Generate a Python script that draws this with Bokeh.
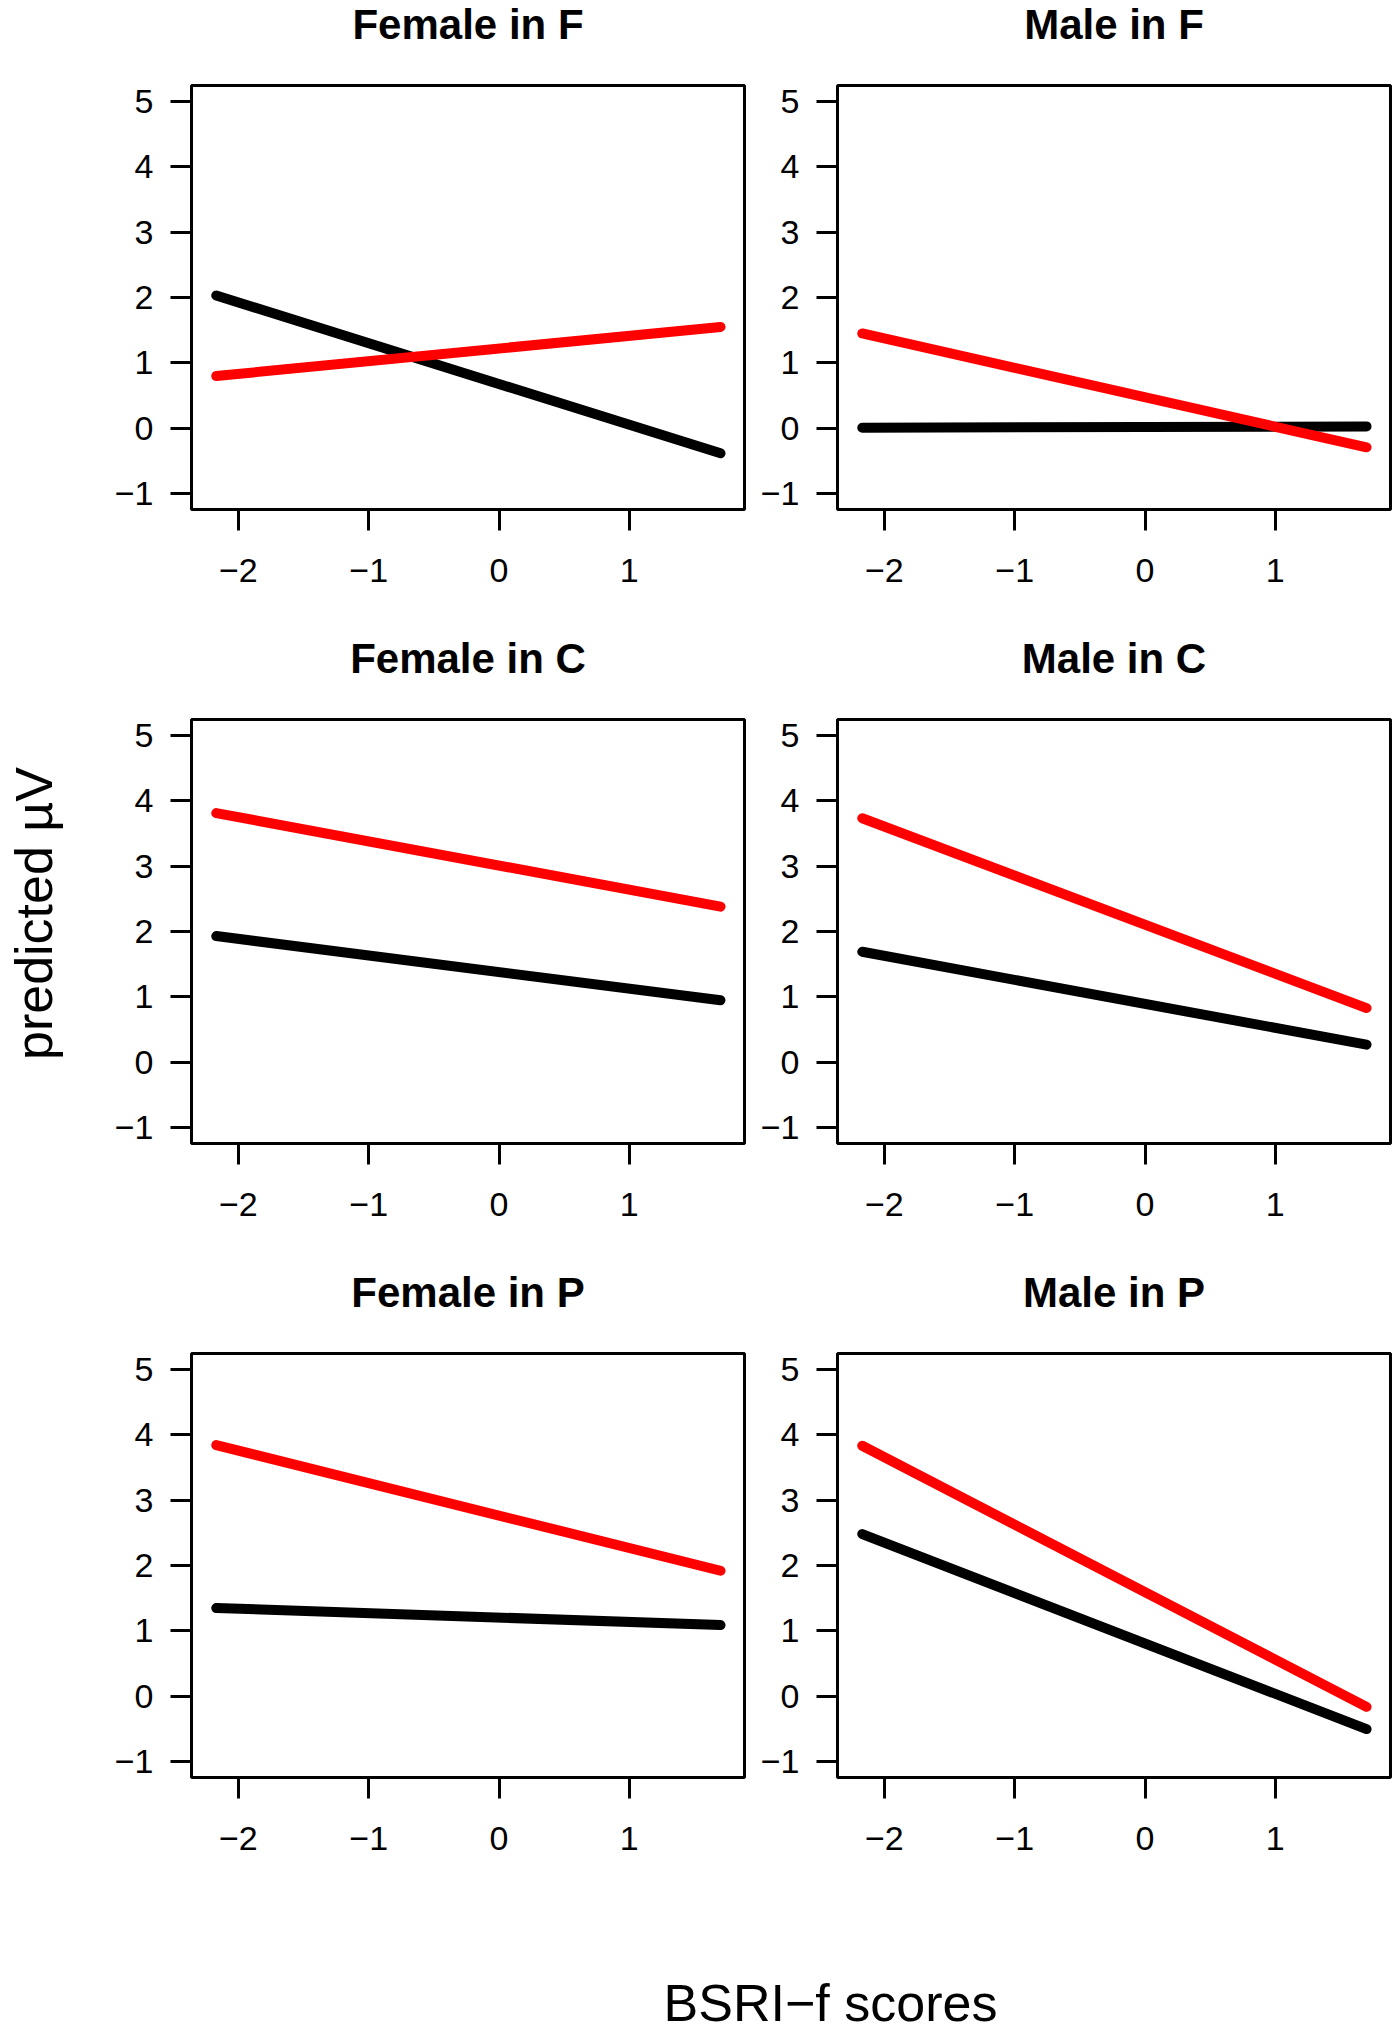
from bokeh.plotting import figure
from bokeh.models import Range1d, FixedTicker, Label
from bokeh.layouts import row, column
from bokeh.embed import file_html
from bokeh.resources import INLINE
import math

# ---- data ----
x_ends = [-2.17, 1.70]
panel_titles = ["Female in F", "Male in F", "Female in C", "Male in C", "Female in P", "Male in P"]
female_F_black = [2.03, -0.38]
female_F_red = [0.80, 1.55]
male_F_black = [0.01, 0.03]
male_F_red = [1.45, -0.29]
female_C_black = [1.93, 0.95]
female_C_red = [3.81, 2.38]
male_C_black = [1.69, 0.27]
male_C_red = [3.73, 0.83]
female_P_black = [1.35, 1.09]
female_P_red = [3.84, 1.92]
male_P_black = [2.48, -0.50]
male_P_red = [3.83, -0.16]
x_ticks = [-2, -1, 0, 1]
y_ticks = [-1, 0, 1, 2, 3, 4, 5]
y_label = "predicted µV"
x_label = "BSRI\u2212f scores"

blacks = [female_F_black, male_F_black, female_C_black, male_C_black, female_P_black, male_P_black]
reds = [female_F_red, male_F_red, female_C_red, male_C_red, female_P_red, male_P_red]

FONT = "Liberation Sans"
FRAME_W, FRAME_H = 553, 424
TITLE_H = 75
PANEL_TOP, PANEL_BOTTOM = 10, 125

def minus(v):
    return ("\u2212" + str(abs(v))) if v < 0 else str(v)

def border_lr(i):
    return (123, 8) if i % 2 == 0 else (85, 10)

def blank(width, height):
    f = figure(width=width, height=height, x_range=Range1d(0, width), y_range=Range1d(0, height),
               min_border=0, output_backend="svg", toolbar_location=None, title=None,
               x_axis_location=None, y_axis_location=None)
    f.grid.visible = False
    f.outline_line_color = None
    f.background_fill_color = "white"
    f.border_fill_color = "white"
    return f

def make_title(i):
    bl, br = border_lr(i)
    w = bl + FRAME_W + br
    f = blank(w, TITLE_H)
    f.add_layout(Label(x=bl + FRAME_W / 2, y=51, text=panel_titles[i],
                       text_align="center", text_baseline="alphabetic",
                       text_font=FONT, text_font_size="42px", text_font_style="bold",
                       text_color="black"))
    return f

def make_panel(i):
    bl, br = border_lr(i)
    p = figure(
        x_range=Range1d(-2.36, 1.884), y_range=Range1d(-1.24, 5.24),
        frame_width=FRAME_W, frame_height=FRAME_H,
        min_border_left=bl, min_border_right=br,
        min_border_top=PANEL_TOP, min_border_bottom=PANEL_BOTTOM,
        output_backend="svg", toolbar_location=None, title=None,
        background_fill_color="white", border_fill_color="white",
    )
    p.grid.visible = False
    p.outline_line_color = "black"
    p.outline_line_width = 3
    for ax, ticks in ((p.xaxis[0], x_ticks), (p.yaxis[0], y_ticks)):
        ax.ticker = FixedTicker(ticks=ticks)
        ax.minor_tick_line_color = None
        ax.axis_line_color = None
        ax.major_tick_line_color = "black"
        ax.major_tick_line_width = 3
        ax.major_tick_out = 21
        ax.major_tick_in = 0
        ax.major_label_text_font = FONT
        ax.major_label_text_font_size = "34px"
        ax.major_label_text_color = "black"
        ax.major_label_overrides = {t: minus(t) for t in ticks}
    p.xaxis[0].major_label_standoff = 28
    p.yaxis[0].major_label_standoff = 17
    p.line(x_ends, blacks[i], line_color="black", line_width=10, line_cap="round")
    p.line(x_ends, reds[i], line_color="#FF0000", line_width=10, line_cap="round")
    return p

rows = []
for r in range(3):
    i, j = 2 * r, 2 * r + 1
    rows.append(row(make_title(i), make_title(j)))
    rows.append(row(make_panel(i), make_panel(j)))

GRID_H = 3 * (TITLE_H + PANEL_TOP + FRAME_H + PANEL_BOTTOM)

# y label strip
yl = blank(68, GRID_H)
yl.add_layout(Label(x=33, y=GRID_H - 913, text=y_label, angle=math.pi / 2,
                    text_align="center", text_baseline="middle",
                    text_font=FONT, text_font_size="52px", text_color="black"))

# x label strip
XL_H = 2033 - GRID_H
xl = blank(1400, XL_H)
xl.add_layout(Label(x=830, y=31, text=x_label,
                    text_align="center", text_baseline="middle",
                    text_font=FONT, text_font_size="52px", text_color="black"))

layout = column(row(yl, column(*rows)), xl)

open("out.html", "w").write(file_html(layout, INLINE))
